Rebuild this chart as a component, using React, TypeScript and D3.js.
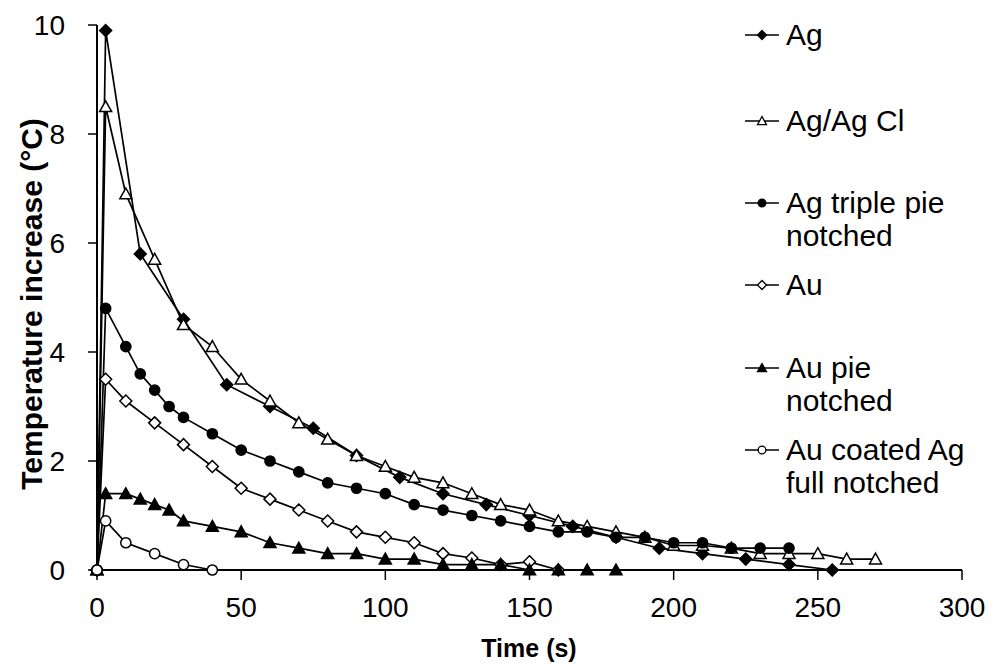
import React from "react";
import * as d3 from "d3";

const agT = [0, 3, 15, 30, 45, 60, 75, 90, 105, 120, 135, 150, 165, 180, 195, 210, 225, 240, 255];
const agV = [0, 9.9, 5.8, 4.6, 3.4, 3.0, 2.6, 2.1, 1.7, 1.4, 1.2, 1.0, 0.8, 0.6, 0.4, 0.3, 0.2, 0.1, 0.0];

const agclT = [0, 3, 10, 20, 30, 40, 50, 60, 70, 80, 90, 100, 110, 120, 130, 140, 150, 160, 170, 180, 190, 200, 210, 220, 230, 240, 250, 260, 270];
const agclV = [0, 8.5, 6.9, 5.7, 4.5, 4.1, 3.5, 3.1, 2.7, 2.4, 2.1, 1.9, 1.7, 1.6, 1.4, 1.2, 1.1, 0.9, 0.8, 0.7, 0.6, 0.45, 0.45, 0.4, 0.3, 0.3, 0.3, 0.2, 0.2];

const agTripleT = [0, 3, 10, 15, 20, 25, 30, 40, 50, 60, 70, 80, 90, 100, 110, 120, 130, 140, 150, 160, 170, 180, 190, 200, 210, 220, 230, 240];
const agTripleV = [0, 4.8, 4.1, 3.6, 3.3, 3.0, 2.8, 2.5, 2.2, 2.0, 1.8, 1.6, 1.5, 1.4, 1.2, 1.1, 1.0, 0.9, 0.8, 0.7, 0.7, 0.6, 0.6, 0.5, 0.5, 0.4, 0.4, 0.4];

const auT = [0, 3, 10, 20, 30, 40, 50, 60, 70, 80, 90, 100, 110, 120, 130, 140, 150, 160];
const auV = [0, 3.5, 3.1, 2.7, 2.3, 1.9, 1.5, 1.3, 1.1, 0.9, 0.7, 0.6, 0.5, 0.3, 0.22, 0.1, 0.15, 0.0];

const auPieT = [0, 3, 10, 15, 20, 25, 30, 40, 50, 60, 70, 80, 90, 100, 110, 120, 130, 140, 150, 160, 170, 180];
const auPieV = [0, 1.4, 1.4, 1.3, 1.2, 1.1, 0.9, 0.8, 0.7, 0.5, 0.4, 0.3, 0.3, 0.2, 0.2, 0.1, 0.1, 0.1, 0, 0, 0, 0];

const auCoatT = [0, 3, 10, 20, 30, 40];
const auCoatV = [0, 0.9, 0.5, 0.3, 0.1, 0.0];

const xTicks = [0, 50, 100, 150, 200, 250, 300];
const yTicks = [0, 2, 4, 6, 8, 10];

const seriesNames = ["Ag", "Ag/Ag Cl", "Ag triple pie|notched", "Au", "Au pie|notched", "Au coated Ag|full notched"];
const seriesShapes = ["diamond", "triangle", "circle", "diamond", "triangle", "circle"];
const seriesFilled = [true, false, true, false, true, false];
const seriesTimes = [agT, agclT, agTripleT, auT, auPieT, auCoatT];
const seriesValues = [agV, agclV, agTripleV, auV, auPieV, auCoatV];

const FONT = "'Liberation Sans', Arial, sans-serif";

function markerPath(shape: string, cx: number, cy: number, s: number): string {
  const p = d3.path();
  if (shape === "diamond") {
    p.moveTo(cx, cy - s);
    p.lineTo(cx + s, cy);
    p.lineTo(cx, cy + s);
    p.lineTo(cx - s, cy);
    p.closePath();
  } else if (shape === "triangle") {
    const h = s * 1.8;
    p.moveTo(cx, cy - h * 0.55);
    p.lineTo(cx + s, cy + h * 0.45);
    p.lineTo(cx - s, cy + h * 0.45);
    p.closePath();
  } else {
    p.moveTo(cx + s * 0.85, cy);
    p.arc(cx, cy, s * 0.85, 0, Math.PI * 2);
    p.closePath();
  }
  return p.toString();
}

export default function App() {
  const x = d3.scaleLinear().domain([0, 300]).range([97, 962]);
  const y = d3.scaleLinear().domain([0, 10]).range([570, 25]);
  const line = d3
    .line<[number, number]>()
    .x((d) => x(d[0]))
    .y((d) => y(d[1]));

  const legendY = [35, 121, 203, 285, 368, 450];

  return (
    <svg
      width={994}
      height={669}
      style={{ position: "absolute", left: 0, top: 0, background: "#fff" }}
      fontFamily={FONT}
    >
      <rect x={0} y={0} width={994} height={669} fill="#fff" />
      {/* series lines */}
      {seriesTimes.map((ts, i) => {
        const pts: [number, number][] = ts.map((t, j) => [t, seriesValues[i][j]]);
        return (
          <path key={"l" + i} d={line(pts) || ""} fill="none" stroke="#000" strokeWidth={1.7} />
        );
      })}
      {/* axes */}
      <line x1={97} y1={y(10)} x2={97} y2={y(0)} stroke="#000" strokeWidth={2} />
      <line x1={97} y1={y(0)} x2={962} y2={y(0)} stroke="#000" strokeWidth={2} />
      {yTicks.map((t) => (
        <g key={"yt" + t}>
          <line x1={88} x2={97} y1={y(t)} y2={y(t)} stroke="#000" strokeWidth={1.5} />
          <text x={65} y={y(t)} dy="0.36em" textAnchor="end" fontSize={28}>
            {t}
          </text>
        </g>
      ))}
      {xTicks.map((t) => (
        <g key={"xt" + t}>
          <line x1={x(t)} x2={x(t)} y1={570} y2={580} stroke="#000" strokeWidth={1.5} />
          <text x={x(t)} y={617} textAnchor="middle" fontSize={28}>
            {t}
          </text>
        </g>
      ))}
      {/* markers */}
      {seriesTimes.map((ts, i) => (
        <g key={"m" + i}>
          {ts.map((t, j) => (
            <path
              key={j}
              d={markerPath(seriesShapes[i], x(t), y(seriesValues[i][j]), 6)}
              fill={seriesFilled[i] ? "#000" : "#fff"}
              stroke="#000"
              strokeWidth={1.5}
            />
          ))}
        </g>
      ))}
      {/* axis titles */}
      <text x={529} y={657} textAnchor="middle" fontSize={25} fontWeight="bold">
        Time (s)
      </text>
      <text
        transform={`translate(42,304) rotate(-90)`}
        textAnchor="middle"
        fontSize={30}
        fontWeight="bold"
      >
        Temperature increase (°C)
      </text>
      {/* legend */}
      {seriesNames.map((name, i) => {
        const ly = legendY[i];
        const lines = name.split("|");
        return (
          <g key={"lg" + i}>
            <line x1={745} x2={779} y1={ly} y2={ly} stroke="#000" strokeWidth={1.5} />
            <path
              d={markerPath(seriesShapes[i], 762, ly, 4.5)}
              fill={seriesFilled[i] ? "#000" : "#fff"}
              stroke="#000"
              strokeWidth={1.3}
            />
            {lines.map((ln, k) => (
              <text key={k} x={786} y={ly + 10 + k * 33} fontSize={30}>
                {ln}
              </text>
            ))}
          </g>
        );
      })}
    </svg>
  );
}
